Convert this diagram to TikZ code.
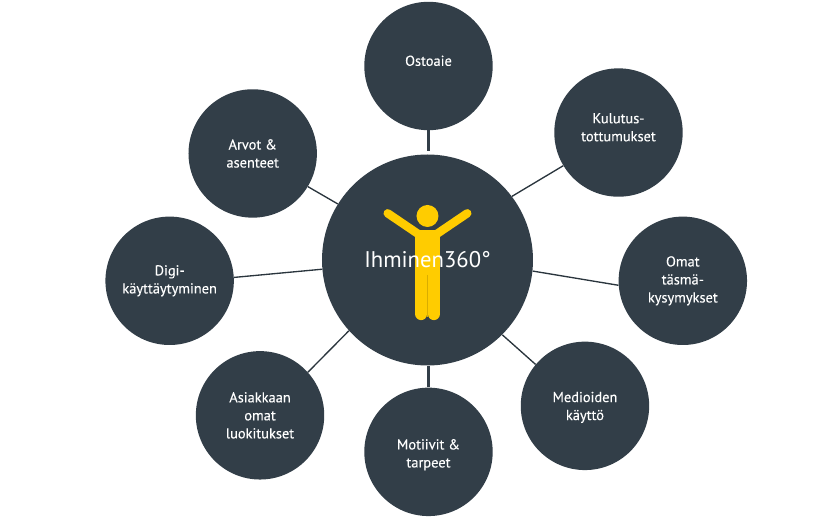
\documentclass[tikz,border=0pt]{standalone}
\usepackage{fontspec}
\setmainfont{PT Sans}
\newfontfamily\labelfont[FakeBold=0.15]{PT Sans}
\usepackage{xcolor}
\usetikzlibrary{positioning}
\definecolor{darkslate}{HTML}{323E48}
\definecolor{figyellow}{HTML}{FFCC00}

\begin{document}
\begin{tikzpicture}[
  on grid,
  roundnode/.style={circle, fill=darkslate, text=white, inner sep=0pt, minimum size=96.3pt, align=center, font=\labelfont\fontsize{10.8}{13.5}\selectfont},
  hubnode/.style={circle, fill=darkslate, inner sep=0pt, minimum size=158.25pt},
  hubtext/.style={text=white, inner sep=0pt, font=\fontsize{17}{20}\selectfont},
  thinlink/.style={draw=darkslate!85!black, line width=1pt},
  thicklink/.style={draw=darkslate, line width=2.3pt}
]

%Nodes
\node[hubnode] (hub) {};
\node[roundnode, above right=145.5pt and 0.75pt of hub] (ostoaie) {Ostoaie\\[-5.5pt]\mbox{}};
\node[roundnode, above right=95.6pt and 143.25pt of hub] (kulutus) {Kulutus-\\tottumukset\\[-5.5pt]\mbox{}};
\node[roundnode, below right=15.6pt and 191.5pt of hub] (omat) {Omat\\täsmä-\\kysymykset};
\node[roundnode, below right=109.4pt and 118.1pt of hub] (medioiden) {\rule{0pt}{10pt}Medioiden\\käyttö};
\node[roundnode, below right=143.9pt and 0.75pt of hub] (motiivit) {\rule{0pt}{12pt}Motiivit \&\\tarpeet};
\node[roundnode, below left=116.5pt and 125.6pt of hub] (asiakkaan) {Asiakkaan\\omat\\luokitukset};
\node[roundnode, below left=15.6pt and 193.4pt of hub] (digi) {Digi-\\käyttäytyminen};
\node[roundnode, above left=79.9pt and 131.1pt of hub] (arvot) {Arvot \&\\asenteet};

\useasboundingbox ([shift={(-320.625pt,195pt)}]hub.center) rectangle +(621.75pt,-393pt);

%Links
\draw[thicklink, shorten >=2.5pt] (ostoaie.south) -- (ostoaie.south |- hub.north);
\draw[thicklink] (motiivit.north) -- (motiivit.north |- hub.south);
\draw[thinlink] (hub.37) -- (kulutus.211);
\draw[thinlink] (hub.-6) -- (omat.184);
\draw[thinlink] (hub.-45.5) -- (medioiden.140);
\draw[thinlink] (hub.222.8) -- (asiakkaan.42.8);
\draw[thinlink] (hub.185) -- (digi.3);
\draw[thinlink] (hub.148.6) -- (arvot.-31.4);

%Figure
\begin{scope}[shift={(hub.center)}, x=0.75pt, y=-0.75pt]
  \fill[figyellow] (0,-44) circle (11);
  \draw[figyellow, line width=6.3pt, line cap=round, line join=round] (-39.8,-46.7) -- (0,-19.7) -- (39.8,-46.7);
  \fill[figyellow] (-12.3,-30) rectangle (12.3,30);
  \draw[figyellow, line width=9.2pt, line cap=round] (-6.15,-20) -- (-6.15,54);
  \draw[figyellow, line width=9.2pt, line cap=round] (6.15,-20) -- (6.15,54);
  \draw[figyellow!85!black, line width=0.3pt] (0,15) -- (0,57);
\end{scope}

\node[hubtext] (hublabel) at (hub) {Ihminen360°};
\end{tikzpicture}
\end{document}
